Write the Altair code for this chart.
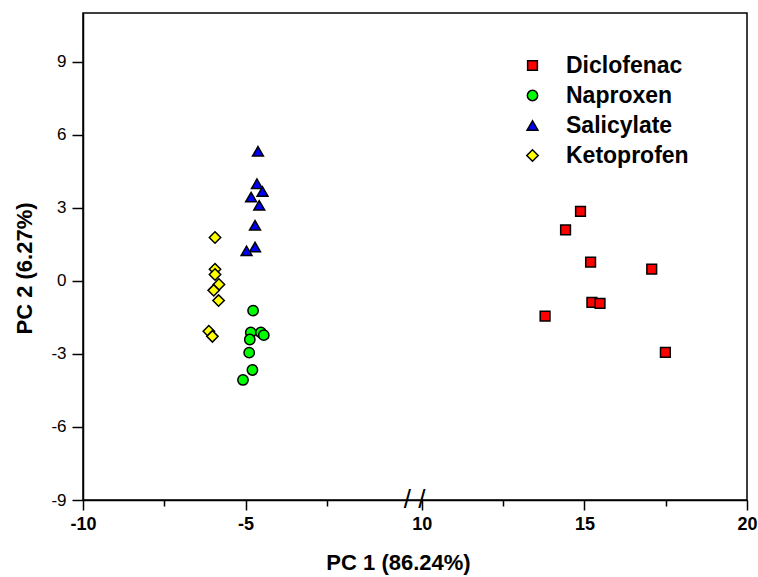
import altair as alt
import pandas as pd

groups = ["Diclofenac", "Naproxen", "Salicylate", "Ketoprofen"]
fill_colors = ["#FF0000", "#00FF00", "#0000FF", "#FFFF00"]
outline_colors = ["#000000", "#000000", "#000000", "#000000"]
shapes = ["square", "circle", "triangle-up", "diamond"]
sizes = [95, 130, 190, 170]

dic_x = [13.79, 14.42, 14.88, 15.19, 15.23, 15.48, 17.07, 17.49]
dic_y = [-1.45, 2.09, 2.85, 0.77, -0.88, -0.93, 0.48, -2.94]
nap_x = [-4.77, -4.84, -4.53, -4.44, -4.87, -4.89, -4.79, -5.08]
nap_y = [-1.22, -2.12, -2.12, -2.23, -2.41, -2.95, -3.66, -4.07]
sal_x = [-4.62, -4.65, -4.48, -4.83, -4.58, -4.71, -4.71, -4.97]
sal_y = [5.32, 3.99, 3.67, 3.44, 3.10, 2.28, 1.39, 1.23]
ket_x = [-5.94, -5.94, -5.94, -5.82, -5.98, -5.83, -6.13, -6.02]
ket_y = [1.78, 0.48, 0.26, -0.15, -0.39, -0.81, -2.07, -2.28]

x_tick_values = [-10, -7.5, -5, -2.5, 10, 12.5, 15, 17.5, 20]
y_tick_values = [-9, -7.5, -6, -4.5, -3, -1.5, 0, 1.5, 3, 4.5, 6, 7.5, 9, 10.5]

BREAK_SHIFT = 9.58  # axis break: values above the break are shifted left by this amount

rows = []
for g, xs, ys in zip(groups, [dic_x, nap_x, sal_x, ket_x], [dic_y, nap_y, sal_y, ket_y]):
    for a, b in zip(xs, ys):
        rows.append({"group": g, "pc1": a, "pc2": b})
df = pd.DataFrame(rows)

def to_plot(v):
    return v - BREAK_SHIFT if v > 5 else v

x_ticks_plot = [to_plot(v) for v in x_tick_values]
real_expr = f"(datum.value > -1 ? datum.value + {BREAK_SHIFT} : datum.value)"
x_major_test = f"round({real_expr} * 2) % 10 == 0"
y_major_test = "round(datum.value * 2) % 6 == 0"

x_scale = alt.Scale(domain=[-10, 20 - BREAK_SHIFT], nice=False, zero=False)
y_scale = alt.Scale(domain=[-9, 11], nice=False, zero=False)

x_axis = alt.Axis(
    title="PC 1 (86.24%)",
    values=x_ticks_plot,
    labelExpr=f"{x_major_test} ? ('' + round({real_expr})) : ''",
    tickSize={"condition": {"test": x_major_test, "value": 10}, "value": 6},
    labelFontSize=18, labelFontWeight="bold", labelPadding=5,
    titleFontSize=22, titleFontWeight="bold",
    titleX=315, titleY=62, titleBaseline="middle", titleAlign="center",
    grid=False, labelFlush=False, labelOverlap=False,
)
y_axis = alt.Axis(
    title="PC 2 (6.27%)",
    values=y_tick_values,
    labelExpr=f"{y_major_test} ? ('' + round(datum.value)) : ''",
    tickSize={"condition": {"test": y_major_test, "value": 11}, "value": 6},
    labelFontSize=17, labelFontWeight="normal", labelPadding=6,
    titleFontSize=22, titleFontWeight="bold",
    titleX=-59, titleY=255, titleAngle=270, titleBaseline="middle", titleAlign="center",
    grid=False, labelFlush=False, labelOverlap=False,
)

legend = alt.Legend(
    title=None, orient="none", legendX=438, legendY=41,
    labelFontSize=23, labelFontWeight="bold", labelColor="black",
    rowPadding=6, labelOffset=22, padding=0,
    symbolStrokeColor="black", symbolStrokeWidth=1.5, symbolOpacity=1,
)

points = alt.Chart(df).transform_calculate(
    px=f"datum.pc1 > 5 ? datum.pc1 - {BREAK_SHIFT} : datum.pc1"
).mark_point(filled=True, strokeWidth=1.5, opacity=1).encode(
    x=alt.X("px:Q", scale=x_scale, axis=x_axis),
    y=alt.Y("pc2:Q", scale=y_scale, axis=y_axis),
    fill=alt.Fill("group:N", scale=alt.Scale(domain=groups, range=fill_colors), legend=legend),
    stroke=alt.Stroke("group:N", scale=alt.Scale(domain=groups, range=outline_colors), legend=legend),
    shape=alt.Shape("group:N", scale=alt.Scale(domain=groups, range=shapes), legend=legend),
    size=alt.Size("group:N", scale=alt.Scale(domain=groups, range=sizes), legend=legend),
)

brk = alt.Chart(pd.DataFrame({"t": ["/ /"]})).mark_text(
    fontSize=26, font="Liberation Sans", color="black", baseline="middle", align="center"
).encode(
    x=alt.datum(0.2, scale=x_scale),
    y=alt.datum(-9, scale=y_scale),
    text="t:N",
)

chart = alt.layer(points, brk).properties(
    width=664, height=487,
    autosize=alt.AutoSizeParams(type="none"),
    padding={"left": 83, "top": 13, "right": 11, "bottom": 77},
    background="white",
).configure_view(
    stroke="black", strokeWidth=1.5
).configure_axis(
    domainColor="black", domainWidth=1.5, tickColor="black", tickWidth=1.5,
    labelColor="black", titleColor="black", labelFont="Liberation Sans", titleFont="Liberation Sans",
).configure_legend(
    labelFont="Liberation Sans"
)

chart.save("out.html", embed_options={"renderer": "svg", "actions": False})
